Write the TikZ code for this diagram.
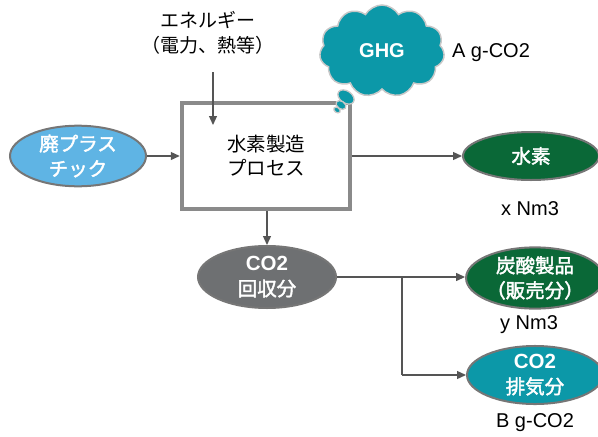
\documentclass[tikz,border=0pt]{standalone}
\usepackage{fontspec}
\setmainfont{Liberation Sans}
\newfontfamily\jp{Noto Sans CJK JP}
\newfontfamily\jpb[FakeBold=2]{Noto Sans CJK JP}
\usetikzlibrary{shapes.geometric,shapes.symbols,arrows.meta}
\definecolor{lightblue}{RGB}{95,180,228}
\definecolor{darkgreen}{RGB}{10,104,55}
\definecolor{teal}{RGB}{12,152,168}
\definecolor{midgray}{RGB}{110,112,114}
\definecolor{edgegray}{RGB}{118,118,118}
\definecolor{boxgray}{RGB}{138,138,138}
\definecolor{linegray}{RGB}{85,85,85}
\definecolor{cloudedge}{RGB}{200,200,200}
\tikzset{
  blob/.style={ellipse, draw=edgegray, line width=2pt, text=white, align=center,
    inner sep=0pt, font=\fontsize{19.5}{25}\selectfont},
  flow/.style={draw=linegray, line width=1.3pt, -{Triangle[length=9pt,width=8pt]}},
  plainline/.style={draw=linegray, line width=1.3pt},
  lbl/.style={inner sep=0pt, align=center, font=\fontsize{20}{25}\selectfont},
  bubble/.style={fill=teal, draw=cloudedge, line width=1.3pt},
}
\newcommand{\bl}[1]{{\bfseries\fontsize{20.5}{25}\selectfont #1}}
\begin{document}
\begin{tikzpicture}[x=1pt,y=-1pt]
\useasboundingbox (0,0) rectangle (598,437);

% energy input label and its arrow
\node[lbl, font=\fontsize{19}{25}\selectfont\jp] (energy) at (208,33) {エネルギー\\（電力、熱等）};
\coordinate (ein) at (213,72);
\coordinate (eend) at (213,125);

% process box
\node[draw=boxgray, line width=4.5pt, minimum width=168pt, minimum height=106pt,
      align=center, font=\fontsize{19.5}{24}\selectfont\jp, inner sep=0pt] (proc) at (266,156) {水素製造\\プロセス};

% greenhouse gas cloud with its trail of bubbles
\node[cloud, draw=cloudedge, line width=1.5pt, fill=teal, text=white,
      cloud puffs=11, cloud puff arc=120, aspect=1.35,
      minimum width=125pt, minimum height=92pt, inner sep=0pt,
      font=\bfseries\fontsize{20}{22}\selectfont] (ghg) at (382,51) {GHG};
\draw[bubble, rotate around={-35:(346,97)}] (346,97) ellipse (9pt and 6pt);
\draw[bubble, rotate around={-35:(341,105)}] (341,105) ellipse (5.5pt and 3.8pt);
\draw[bubble, rotate around={-35:(337,110)}] (337,110) ellipse (3.5pt and 2.5pt);
\node[lbl] (ghgamt) at (491,53) {A g-CO2};

% feedstock
\node[blob, fill=lightblue, minimum width=136pt, minimum height=60pt] (plastic) at (78,156)
  {\jpb 廃プラス\\\jpb チック};

% hydrogen product
\node[blob, fill=darkgreen, minimum width=136pt, minimum height=48pt] (h2) at (531,156)
  {\jpb 水素};
\node[lbl] (h2amt) at (530,209) {x Nm3};

% recovered CO2
\node[blob, fill=midgray, minimum width=138pt, minimum height=62pt] (co2r) at (267,277)
  {\bl{CO2}\\\jpb 回収分};

% carbonate products
\node[blob, fill=darkgreen, minimum width=136pt, minimum height=55pt] (carb) at (535,278)
  {\jpb 炭酸製品\\\jpb （販売分）};
\node[lbl] (carbamt) at (529,325) {y Nm3};

% vented CO2
\node[blob, fill=teal, minimum width=136pt, minimum height=57pt] (vent) at (535,375)
  {\bl{CO2}\\\jpb 排気分};
\node[lbl] (ventamt) at (535,423) {B g-CO2};

% connectors
\draw[flow] (ein) -- (eend);
\draw[flow] (plastic.east) -- (proc.west |- plastic.east);
\draw[flow] (proc.east |- h2.west) -- (h2.west);
\draw[flow] (proc.south -| co2r.north) -- (co2r.north);
\draw[flow] (co2r.east) -- (carb.west |- co2r.east);
\coordinate (split) at (402,277);
\draw[plainline] (split) -- (split |- vent.west);
\draw[flow] (split |- vent.west) -- (vent.west);
\end{tikzpicture}
\end{document}
